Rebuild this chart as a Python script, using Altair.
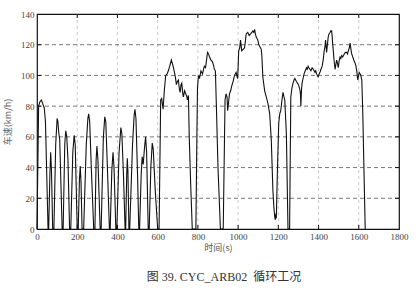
import altair as alt
import pandas as pd

# time (s) and speed (km/h)
t = [0, 8, 15, 22, 30, 36, 42, 55,
     58, 64, 68, 72, 78,
     84, 93, 100, 104, 108, 113, 125,
     130, 138, 143, 148, 154, 162,
     168, 178, 185, 190, 200,
     205, 211, 215, 219, 224,
     232, 245, 253, 257, 262, 270, 282,
     288, 294, 298, 303, 314,
     319, 330, 337, 342, 350, 360,
     364, 372, 378, 383, 392,
     397, 408, 417, 422, 430, 438,
     441, 446, 449, 452, 457,
     461, 475, 483, 487, 492, 500, 506,
     510, 518, 523, 528, 534, 540, 545, 553,
     558, 566, 573, 578, 588, 600,
     607, 615, 620, 627, 633, 640, 647, 653, 660, 668, 675, 682, 688, 693, 698,
     703, 708, 712, 716, 720, 725, 728, 734, 740, 745, 748, 753, 757, 764, 772,
     790, 795, 798, 803, 808, 815, 823, 828, 832, 838, 843, 848, 853, 858, 865,
     872, 877, 882, 887, 892, 900, 912,
     920, 926, 935, 940, 945, 948, 957, 963, 968, 975, 982, 990, 995, 998, 1003,
     1008, 1012, 1018, 1025, 1032, 1036, 1040, 1048, 1055, 1062, 1068, 1073, 1078,
     1082, 1086, 1090, 1098, 1103, 1107, 1115, 1118, 1123, 1132, 1140, 1148, 1157,
     1165, 1173, 1178, 1182, 1185, 1188, 1190, 1195, 1202, 1207, 1212, 1218, 1223,
     1228, 1232, 1240, 1248,
     1256, 1262, 1268, 1273, 1278, 1282, 1286, 1290, 1295, 1300, 1307, 1310, 1312,
     1315, 1318, 1323, 1328, 1334, 1340, 1344, 1348, 1352, 1357, 1362, 1368, 1374,
     1382, 1386, 1390, 1394, 1398, 1403, 1407, 1412, 1418, 1423, 1428, 1432, 1435,
     1438, 1440, 1444, 1448, 1452, 1457, 1461, 1465, 1468, 1470, 1474, 1477, 1482,
     1486, 1490, 1494, 1498, 1503, 1507, 1511, 1515, 1520, 1524, 1528, 1533, 1540,
     1544, 1548, 1553, 1557, 1561, 1565, 1570, 1573, 1578, 1582, 1586, 1590, 1595,
     1598, 1602, 1607, 1610, 1615, 1618, 1620, 1627, 1632]

v = [0, 80, 83, 84, 81, 79, 70, 0,
     0, 35, 50, 38, 0,
     0, 55, 72, 70, 63, 58, 0,
     0, 55, 64, 60, 45, 0,
     0, 50, 61, 55, 0,
     0, 32, 41, 30, 0,
     0, 55, 72, 75, 70, 40, 0,
     0, 45, 54, 45, 0,
     0, 60, 73, 70, 40, 0,
     0, 38, 50, 40, 0,
     0, 50, 66, 62, 35, 0,
     0, 35, 46, 38, 0,
     0, 55, 74, 78, 72, 35, 0,
     0, 35, 47, 42, 52, 60, 50, 0,
     0, 40, 56, 52, 25, 0,
     0, 84, 85, 78, 90, 100, 101, 103, 106, 110, 107, 103, 99, 94, 96,
     97, 91, 89, 94, 95, 88, 86, 90, 88, 86, 84, 87, 60, 30, 0,
     0, 60, 92, 100, 98, 103, 101, 104, 106, 105, 110, 115, 114, 112, 110,
     109, 107, 104, 103, 80, 40, 0,
     0, 0, 84, 88, 86, 77, 88, 90, 93, 96, 100, 102, 99, 98, 116,
     118, 123, 116, 117, 118, 122, 127, 128, 126, 127, 128, 129, 128,
     130, 127, 125, 123, 120, 119, 117, 113, 99, 90, 86, 82, 75,
     58, 25, 14, 8, 6, 10, 7, 36, 69, 75, 77, 84, 89,
     86, 84, 62, 0,
     0, 86, 92, 95, 97, 98, 97, 96, 95, 94, 91, 88, 80,
     90, 95, 98, 101, 103, 105, 104, 106, 105, 104, 103, 105, 104,
     102, 103, 101, 100, 99, 101, 102, 104, 106, 110, 116, 119, 123,
     118, 115, 120, 125, 127, 128, 129, 129, 125, 121, 115, 110, 104,
     107, 110, 108, 105, 110, 112, 111, 113, 112, 113, 114, 115, 115,
     114, 116, 118, 121, 117, 114, 112, 111, 109, 108, 106, 103, 97,
     99, 102, 101, 100, 97, 84, 75, 31, 0]

x_ticks = [0, 200, 400, 600, 800, 1000, 1200, 1400, 1600, 1800]
y_ticks = [0, 20, 40, 60, 80, 100, 120, 140]

df = pd.DataFrame({"t": t, "v": v})

W, H = 362, 215
serif = "Liberation Serif"
cjk = "Liberation Serif, Noto Sans CJK SC"
xs = alt.Scale(domain=[0, 1800])
ys = alt.Scale(domain=[0, 140])

xaxis = alt.Axis(values=x_ticks, format="d", title="时间(s)", grid=False, ticks=False,
                 labelFont=serif, labelFontSize=9, labelColor="#444444",
                 labelPadding=3, labelOverlap=False, labelFlush=False,
                 titleFont="Noto Sans CJK SC", titleFontSize=9,
                 titleFontWeight="normal", titleColor="#555555", titlePadding=2,
                 domain=False)
yaxis = alt.Axis(values=y_ticks, format="d", title="车速(km/h)", grid=False, ticks=False,
                 labelFont=serif, labelFontSize=9, labelColor="#444444",
                 labelPadding=3, labelOverlap=False, labelFlush=False,
                 titleFont="Noto Sans CJK SC", titleFontSize=9,
                 titleFontWeight="normal", titleColor="#666666", titlePadding=8,
                 domain=False)

tick_x = pd.DataFrame({"t": x_ticks[1:-1]})
tick_y = pd.DataFrame({"v": y_ticks[1:-1]})

X = alt.X("t:Q", scale=xs, axis=xaxis)
Y = alt.Y("v:Q", scale=ys, axis=yaxis)

xgrid = alt.Chart(tick_x).mark_rule(
    color="#bdbdbd", strokeDash=[3, 3], strokeWidth=0.8).encode(x=X)
ygrid = alt.Chart(tick_y).mark_rule(
    color="#555555", strokeDash=[4, 3], strokeWidth=0.8).encode(y=Y)

line = alt.Chart(df).mark_line(color="#111111", strokeWidth=1.1).encode(x=X, y=Y)

top_ticks = alt.Chart(tick_x).mark_rule(color="#111111", strokeWidth=1).encode(
    x=X, y=alt.value(0), y2=alt.value(4))
bot_ticks = alt.Chart(tick_x).mark_rule(color="#111111", strokeWidth=1).encode(
    x=X, y=alt.value(H - 4), y2=alt.value(H))
right_ticks = alt.Chart(tick_y).mark_rule(color="#111111", strokeWidth=1).encode(
    y=Y, x=alt.value(W - 4), x2=alt.value(W))
left_ticks = alt.Chart(tick_y).mark_rule(color="#111111", strokeWidth=1).encode(
    y=Y, x=alt.value(0), x2=alt.value(4))

chart = alt.layer(xgrid, ygrid, top_ticks, bot_ticks, right_ticks, left_ticks, line).properties(
    width=W, height=H,
    title=alt.TitleParams("图 39. CYC_ARB02\u00a0\u00a0循环工况", orient="bottom", font=cjk,
                          fontSize=12, fontWeight="normal", color="#333333", offset=20,
                          anchor="middle", dx=6),
    autosize=alt.AutoSizeParams(type="none"),
    padding={"left": 37, "top": 14, "right": 19, "bottom": 65},
    background="white",
).configure_view(stroke="#111111", strokeWidth=1.2)

chart.save("out.html", embed_options={"renderer": "svg", "actions": False})
